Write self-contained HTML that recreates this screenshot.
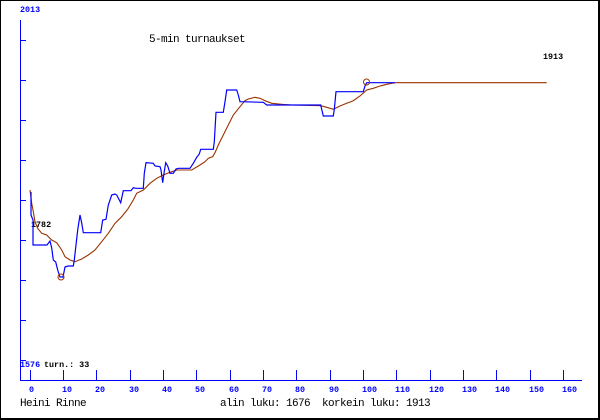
<!DOCTYPE html>
<html>
<head>
<meta charset="utf-8">
<style>
html,body{margin:0;padding:0;background:#fff;}
svg{display:block;}
.t{font-family:"Liberation Mono",monospace;font-size:8.4px;font-weight:bold;}
.m{font-family:"Liberation Mono",monospace;font-size:11px;letter-spacing:-0.6px;white-space:pre;}
</style>
</head>
<body>
<svg width="600" height="420" viewBox="0 0 600 420" xmlns="http://www.w3.org/2000/svg">
<rect x="0" y="0" width="600" height="420" fill="#fff"/>
<!-- border -->
<rect x="0.5" y="0.5" width="598" height="418" fill="none" stroke="#000" stroke-width="1"/>
<line x1="599" y1="0" x2="599" y2="420" stroke="#000" stroke-width="2"/>
<line x1="0" y1="419" x2="600" y2="419" stroke="#000" stroke-width="2"/>

<!-- axes -->
<g stroke="#0000ff" stroke-width="1" shape-rendering="crispEdges">
<line x1="20.5" y1="20" x2="20.5" y2="381"/>
<line x1="20" y1="380.5" x2="582" y2="380.5"/>
<line x1="20" y1="40.5" x2="26" y2="40.5"/>
<line x1="20" y1="80.5" x2="26" y2="80.5"/>
<line x1="20" y1="120.5" x2="26" y2="120.5"/>
<line x1="20" y1="160.5" x2="26" y2="160.5"/>
<line x1="20" y1="200.5" x2="26" y2="200.5"/>
<line x1="20" y1="240.5" x2="26" y2="240.5"/>
<line x1="20" y1="280.5" x2="26" y2="280.5"/>
<line x1="20" y1="320.5" x2="26" y2="320.5"/>
<line x1="20" y1="360.5" x2="26" y2="360.5"/>
<line x1="30.5" y1="370" x2="30.5" y2="380"/>
<line x1="63.5" y1="370" x2="63.5" y2="380"/>
<line x1="96.5" y1="370" x2="96.5" y2="380"/>
<line x1="130.5" y1="370" x2="130.5" y2="380"/>
<line x1="163.5" y1="370" x2="163.5" y2="380"/>
<line x1="196.5" y1="370" x2="196.5" y2="380"/>
<line x1="230.5" y1="370" x2="230.5" y2="380"/>
<line x1="263.5" y1="370" x2="263.5" y2="380"/>
<line x1="296.5" y1="370" x2="296.5" y2="380"/>
<line x1="330.5" y1="370" x2="330.5" y2="380"/>
<line x1="363.5" y1="370" x2="363.5" y2="380"/>
<line x1="396.5" y1="370" x2="396.5" y2="380"/>
<line x1="430.5" y1="370" x2="430.5" y2="380"/>
<line x1="463.5" y1="370" x2="463.5" y2="380"/>
<line x1="496.5" y1="370" x2="496.5" y2="380"/>
<line x1="530.5" y1="370" x2="530.5" y2="380"/>
<line x1="563.5" y1="370" x2="563.5" y2="380"/>
</g>

<!-- x labels -->
<g class="t" fill="#0000ff">
<text x="29" y="392">0</text>
<text x="62" y="392">10</text>
<text x="95" y="392">20</text>
<text x="129" y="392">30</text>
<text x="162" y="392">40</text>
<text x="195" y="392">50</text>
<text x="229" y="392">60</text>
<text x="262" y="392">70</text>
<text x="295" y="392">80</text>
<text x="329" y="392">90</text>
<text x="362" y="392">100</text>
<text x="395" y="392">110</text>
<text x="429" y="392">120</text>
<text x="462" y="392">130</text>
<text x="495" y="392">140</text>
<text x="529" y="392">150</text>
<text x="562" y="392">160</text>
<text x="20" y="12">2013</text>
<text x="20" y="367">1576</text>
</g>
<g class="t" fill="#000">
<text x="44" y="367">turn.: 33</text>
<text x="31" y="227">1782</text>
<text x="543" y="59">1913</text>
</g>

<!-- series -->
<polyline fill="none" stroke="#993300" stroke-width="1.1" points="30,190 31.7,203.3 33.3,211.7 35,221.7 37.7,228.3 41.7,233.3 46.7,235 51.7,240 56.7,242.7 61.7,250 65,256.7 70,260 75,261.7 81.7,259 88.3,255 95,250 101.7,241.7 108.3,233.3 115,223.3 121.7,216.7 128.3,208.3 133.3,200 136.7,193.3 143.3,190 150,183.3 156.7,178.3 163.3,175 170,172.3 176.7,170 191.7,170 200,165 205,161.7 208.3,158.3 212.7,156.7 215,152.7 218.3,145 223.3,135 228.3,125 233.3,115 240,106.7 245,100.7 248.3,99 255,97.3 260,98.3 265,100.7 271.7,103.3 281.7,104.3 291.7,105 320.7,105.7 326.7,107.3 333.3,109.3 340,106 346.7,103.3 353.3,100.7 360,96 366.7,90 373.3,88.3 380,86 386.7,84.3 395,82.7 546.7,82.7"/>
<polyline fill="none" stroke="#0000ff" stroke-width="1.2" points="31,192 31,215 33,220 33,245 47,245 50,241 51.7,248 53.3,260 55.7,262 57.7,270 60,277 63,277 65,267 68,266 73.3,266 74.3,260 77.7,230 80,215 81.7,223 83.3,232.7 100.7,232.7 102.7,220 106,219.3 108.3,205 111.7,195 115,194 116.7,195 120.7,202.7 123.3,190.7 131,190.7 133.3,187.7 135.7,188.3 143.3,188.3 144.3,173.3 146,162.7 153.3,163.3 155,166 160,166.7 161,170 162.7,182.7 164,173.3 165.7,162.7 167.7,166 170,173.3 173.3,173.3 176,169 178.3,168.3 190,168.3 193.3,163.3 196.7,157.3 199.3,154 200.7,149.3 213.3,149.3 214.3,141.7 216,112.3 223.3,112.3 225,101.7 226.7,90 236.7,90 238.3,95 240,101.7 263.3,102.3 266.7,105 320.7,105 323.3,116 333.3,116 334.3,109.3 336,91.7 363.3,91.7 365,86 366.7,82.7 395,82.7"/>
<circle cx="61" cy="277" r="3" fill="none" stroke="#993300" stroke-width="1"/>
<circle cx="366.5" cy="82" r="3" fill="none" stroke="#993300" stroke-width="1"/>

<!-- texts -->
<g class="m" fill="#000">
<text x="149" y="42">5-min turnaukset</text>
<text x="20" y="406">Heini Rinne</text>
<text x="220" y="406" xml:space="preserve">alin luku: 1676  korkein luku: 1913</text>
</g>
</svg>
</body>
</html>
